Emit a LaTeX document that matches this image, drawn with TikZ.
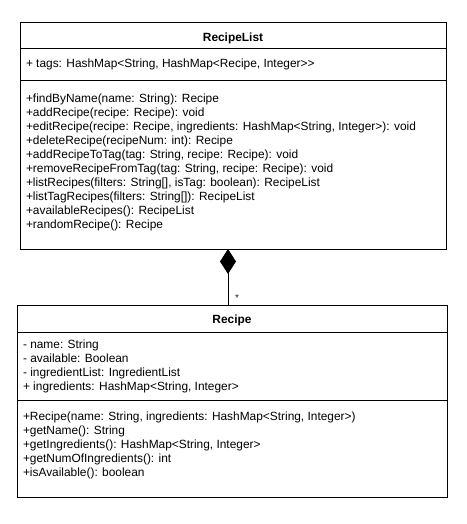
\documentclass[tikz,border=0pt]{standalone}
\usepackage{fontspec}
\setmainfont{Liberation Sans}
\usetikzlibrary{arrows.meta}
\begin{document}
\begin{tikzpicture}[x=1pt,y=-1pt,
  classbox/.style={draw, line width=1pt, rectangle, inner sep=0pt, outer sep=0pt, anchor=north west},
  txt/.style={font=\fontsize{11.9}{14}\selectfont, inner sep=0pt, outer sep=0pt, anchor=north west, align=left},
  ttl/.style={font=\fontsize{11.9}{14}\selectfont\bfseries, inner sep=0pt, anchor=base},
  sepline/.style={line width=1pt}]
\useasboundingbox (0,0) rectangle (466,524);
\fill[white] (0,0) rectangle (466,524);

% RecipeList class
\node[classbox, minimum width=426pt, minimum height=226pt] (recipelist) at (20,23) {};
\node[ttl] (rltitle) at (233,41.5) {RecipeList};
\draw[sepline] (20,49) -- (446,49);
\node[txt] (rlattr) at (26,57.5) {\strut+ tags: HashMap<String, HashMap<Recipe, Integer>{}>};
\draw[sepline] (20,80.5) -- (446,80.5);
\node[txt] (rlmeth) at (26,93) {\strut+findByName(name: String): Recipe\\
+addRecipe(recipe: Recipe): void\\
+editRecipe(recipe: Recipe, ingredients: HashMap<String, Integer>): void\\
+deleteRecipe(recipeNum: int): Recipe\\
+addRecipeToTag(tag: String, recipe: Recipe): void\\
+removeRecipeFromTag(tag: String, recipe: Recipe): void\\
+listRecipes(filters: String[], isTag: boolean): RecipeList\\
+listTagRecipes(filters: String[]): RecipeList\\
+availableRecipes(): RecipeList\\
+randomRecipe(): Recipe};

% Recipe class
\node[classbox, minimum width=430pt, minimum height=192pt] (recipe) at (17,305) {};
\node[ttl] (rtitle) at (232,323.5) {Recipe};
\draw[sepline] (17,332) -- (447,332);
\node[txt] (rattr) at (23,339) {\strut- name: String\\
- available: Boolean\\
- ingredientList: IngredientList\\
+ ingredients: HashMap<String, Integer>};
\draw[sepline] (17,400) -- (447,400);
\node[txt] (rmeth) at (23,411) {\strut+Recipe(name: String, ingredients: HashMap<String, Integer>)\\
+getName(): String\\
+getIngredients(): HashMap<String, Integer>\\
+getNumOfIngredients(): int\\
+isAvailable(): boolean};

% composition
\draw[line width=1pt, -{Diamond[length=25pt, width=16pt]}] ([xshift=-4pt]recipe.north) -- ([xshift=-5pt]recipelist.south);
\node[font=\fontsize{10}{10}\selectfont, text=black!85, inner sep=0pt] (mult) at (237,298) {*};
\end{tikzpicture}
\end{document}
